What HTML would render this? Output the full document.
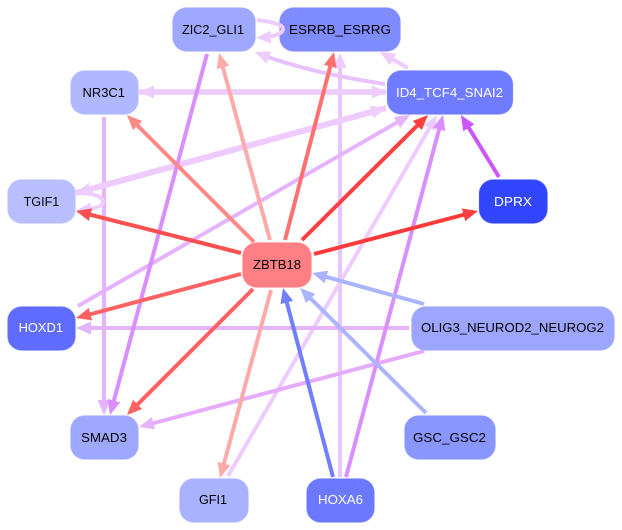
<!DOCTYPE html>
<html>
<head>
<meta charset="utf-8">
<title>Regulatory network</title>
<style>
html,body{margin:0;padding:0;background:#fff;width:622px;height:530px;overflow:hidden}
svg{display:block}
text{font-family:"Liberation Sans",sans-serif;font-size:13px}
.n{stroke-width:1;stroke-opacity:.35}
.e line,.e path{fill:none;stroke-width:4}
</style>
</head>
<body>
<svg width="622" height="530" viewBox="0 0 622 530" xmlns="http://www.w3.org/2000/svg">
<defs>
<marker id="a" markerUnits="userSpaceOnUse" markerWidth="16" markerHeight="14" refX="9" refY="6.5" orient="auto"><path d="M0,0L15,6.5L0,13z" fill="#ff8888"/></marker>
<marker id="b" markerUnits="userSpaceOnUse" markerWidth="16" markerHeight="14" refX="9" refY="6.5" orient="auto"><path d="M0,0L15,6.5L0,13z" fill="#ffaaaa"/></marker>
<marker id="c" markerUnits="userSpaceOnUse" markerWidth="16" markerHeight="14" refX="9" refY="6.5" orient="auto"><path d="M0,0L15,6.5L0,13z" fill="#ff7070"/></marker>
<marker id="d" markerUnits="userSpaceOnUse" markerWidth="16" markerHeight="14" refX="9" refY="6.5" orient="auto"><path d="M0,0L15,6.5L0,13z" fill="#ff4040"/></marker>
<marker id="e" markerUnits="userSpaceOnUse" markerWidth="16" markerHeight="14" refX="9" refY="6.5" orient="auto"><path d="M0,0L15,6.5L0,13z" fill="#ff5050"/></marker>
<marker id="f" markerUnits="userSpaceOnUse" markerWidth="16" markerHeight="14" refX="9" refY="6.5" orient="auto"><path d="M0,0L15,6.5L0,13z" fill="#ff6262"/></marker>
<marker id="g" markerUnits="userSpaceOnUse" markerWidth="16" markerHeight="14" refX="9" refY="6.5" orient="auto"><path d="M0,0L15,6.5L0,13z" fill="#6f7fff"/></marker>
<marker id="h" markerUnits="userSpaceOnUse" markerWidth="16" markerHeight="14" refX="9" refY="6.5" orient="auto"><path d="M0,0L15,6.5L0,13z" fill="#aab4ff"/></marker>
<marker id="i" markerUnits="userSpaceOnUse" markerWidth="16" markerHeight="14" refX="9" refY="6.5" orient="auto"><path d="M0,0L15,6.5L0,13z" fill="#e6b3ff"/></marker>
<marker id="j" markerUnits="userSpaceOnUse" markerWidth="16" markerHeight="14" refX="9" refY="6.5" orient="auto"><path d="M0,0L15,6.5L0,13z" fill="#d98fff"/></marker>
<marker id="k" markerUnits="userSpaceOnUse" markerWidth="16" markerHeight="14" refX="9" refY="6.5" orient="auto"><path d="M0,0L15,6.5L0,13z" fill="#eeccff"/></marker>
<marker id="l" markerUnits="userSpaceOnUse" markerWidth="16" markerHeight="14" refX="9" refY="6.5" orient="auto"><path d="M0,0L15,6.5L0,13z" fill="#cc55ff"/></marker>
</defs>
<g class="e">
<line x1="340" y1="477" x2="340" y2="59" stroke="#eac4ff" marker-end="url(#k)"/>
<line x1="228" y1="476" x2="434" y2="120.2" stroke="#eeccff" marker-end="url(#k)"/>
<line x1="104" y1="117" x2="104" y2="409" stroke="#e6b3ff" marker-end="url(#i)"/>
<line x1="409" y1="328" x2="82" y2="328" stroke="#e6b3ff" marker-end="url(#i)"/>
<line x1="78" y1="306" x2="404.8" y2="118" stroke="#e6b3ff" marker-end="url(#i)"/>
<line x1="424" y1="351" x2="144.8" y2="425.5" stroke="#e6aaff" marker-end="url(#i)"/>
<line x1="386" y1="92" x2="145" y2="92" stroke="#eeccff" style="stroke-width:5.5" marker-end="url(#k)"/>
<line x1="139" y1="92" x2="381" y2="92" stroke="#eeccff" style="stroke-width:5.5" marker-end="url(#k)"/>
<line x1="386" y1="108" x2="81.8" y2="191.4" stroke="#eeccff" style="stroke-width:6" marker-end="url(#k)"/>
<line x1="76" y1="193" x2="380.2" y2="109.6" stroke="#eeccff" style="stroke-width:6" marker-end="url(#k)"/>
<path d="M385,84Q310,73 260.5,54.3" stroke="#e8c2ff" marker-end="url(#k)"/>
<line x1="408" y1="68" x2="385.2" y2="55" stroke="#eeccff" marker-end="url(#k)"/>
<path d="M76,193C95,193 103,197 103,202C103,207 92,209 82,210" stroke="#eeccff" marker-end="url(#k)"/>
<line x1="207" y1="54" x2="111.6" y2="409.2" stroke="#d98fff" marker-end="url(#j)"/>
<line x1="346" y1="477" x2="441.4" y2="120.8" stroke="#d98fff" marker-end="url(#j)"/>
<line x1="499" y1="177" x2="464.1" y2="120.1" stroke="#cc55ff" marker-end="url(#l)"/>
<line x1="426" y1="413" x2="304.3" y2="292.2" stroke="#aab4ff" marker-end="url(#h)"/>
<line x1="424" y1="304" x2="317.8" y2="274.6" stroke="#aab4ff" marker-end="url(#h)"/>
<line x1="333" y1="477" x2="284.5" y2="293.8" stroke="#6f7fff" marker-end="url(#g)"/>
<line x1="254" y1="242" x2="131.2" y2="119.2" stroke="#ff8888" marker-end="url(#a)"/>
<line x1="270" y1="240" x2="220.6" y2="58.8" stroke="#ffaaaa" marker-end="url(#b)"/>
<line x1="285" y1="240" x2="332.5" y2="57.8" stroke="#ff7070" marker-end="url(#c)"/>
<line x1="302" y1="240" x2="423.7" y2="119.2" stroke="#ff4040" marker-end="url(#d)"/>
<line x1="314" y1="254" x2="472.2" y2="212.5" stroke="#ff3a3a" marker-end="url(#d)"/>
<line x1="241" y1="253" x2="81.8" y2="212.5" stroke="#ff5050" marker-end="url(#e)"/>
<line x1="241" y1="274" x2="81.8" y2="316.5" stroke="#ff6262" marker-end="url(#f)"/>
<line x1="253" y1="289" x2="131.2" y2="410.8" stroke="#ff6262" marker-end="url(#f)"/>
<line x1="271" y1="290" x2="221.6" y2="472.2" stroke="#ffaaaa" marker-end="url(#b)"/>
</g>
<g>
<rect class="n" x="172.5" y="7.5" width="83" height="44" rx="14" fill="#9fa8ff" stroke="#c5caff"/>
<rect class="n" x="279.5" y="7.5" width="121" height="44" rx="14" fill="#7f8cff" stroke="#b0b8ff"/>
<rect class="n" x="387" y="70.5" width="126" height="44" rx="14" fill="#6f7cff" stroke="#a8b0ff"/>
<rect class="n" x="479" y="179.5" width="68.5" height="44" rx="14" fill="#3346ff" stroke="#8a94ff"/>
<rect class="n" x="70.5" y="70.5" width="68" height="44" rx="14" fill="#b0b8ff" stroke="#d0d4ff"/>
<rect class="n" x="7.5" y="179.5" width="68" height="44" rx="14" fill="#b8beff" stroke="#d4d8ff"/>
<rect class="n" x="242.5" y="242.5" width="69" height="45" rx="14" fill="#ff7f84" stroke="#ffb0b4"/>
<rect class="n" x="7.5" y="306.5" width="68" height="44" rx="14" fill="#5f6cff" stroke="#a0a8ff"/>
<rect class="n" x="70.5" y="415.5" width="68" height="44" rx="14" fill="#9fa8ff" stroke="#c5caff"/>
<rect class="n" x="179.5" y="478.5" width="69" height="44" rx="14" fill="#a9b2ff" stroke="#ccd0ff"/>
<rect class="n" x="306.5" y="478.5" width="68" height="44" rx="14" fill="#6b78ff" stroke="#a8b0ff"/>
<rect class="n" x="411.5" y="306.5" width="203" height="44" rx="14" fill="#9ca6ff" stroke="#c5caff"/>
<rect class="n" x="404.5" y="415.5" width="91" height="44" rx="14" fill="#8a96ff" stroke="#b8beff"/>
</g>
<path d="M257,20C275,22 283,25 283,29C283,34 272,37 262,37.5" fill="none" stroke="#eeccff" stroke-width="4" marker-end="url(#k)"/>
<g fill="#000">
<text x="182" y="34" textLength="62" lengthAdjust="spacingAndGlyphs">ZIC2_GLI1</text>
<text x="289" y="34" textLength="102" lengthAdjust="spacingAndGlyphs">ESRRB_ESRRG</text>
<text x="82.5" y="97" textLength="42.5" lengthAdjust="spacingAndGlyphs">NR3C1</text>
<text x="23.6" y="206" textLength="35.7" lengthAdjust="spacingAndGlyphs">TGIF1</text>
<text x="253" y="269" textLength="48" lengthAdjust="spacingAndGlyphs">ZBTB18</text>
<text x="81" y="442" textLength="46" lengthAdjust="spacingAndGlyphs">SMAD3</text>
<text x="199" y="504" textLength="28" lengthAdjust="spacingAndGlyphs">GFI1</text>
<text x="421" y="332" textLength="183" lengthAdjust="spacingAndGlyphs">OLIG3_NEUROD2_NEUROG2</text>
<text x="413" y="442" textLength="73" lengthAdjust="spacingAndGlyphs">GSC_GSC2</text>
</g>
<g fill="#fff">
<text x="396" y="97" textLength="107" lengthAdjust="spacingAndGlyphs">ID4_TCF4_SNAI2</text>
<text x="494" y="206" textLength="38" lengthAdjust="spacingAndGlyphs">DPRX</text>
<text x="18.6" y="332" textLength="44.4" lengthAdjust="spacingAndGlyphs">HOXD1</text>
<text x="318" y="504" textLength="45" lengthAdjust="spacingAndGlyphs">HOXA6</text>
</g>
</svg>
</body>
</html>
